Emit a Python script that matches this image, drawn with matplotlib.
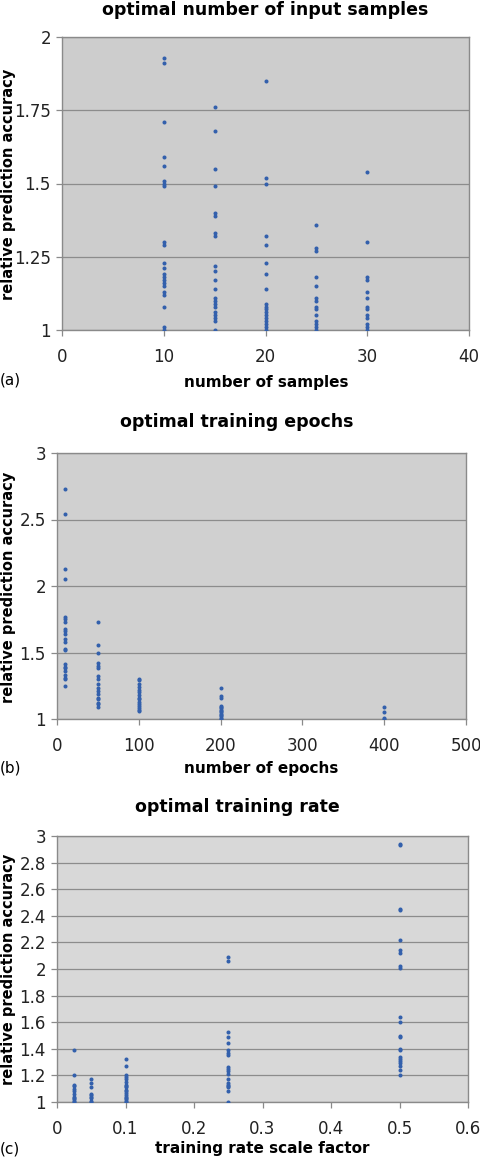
import matplotlib
matplotlib.use("Agg")
import matplotlib.pyplot as plt
from matplotlib.ticker import FuncFormatter

# (a) optimal number of input samples
samples_x = [10, 15, 20, 25, 30]
samples_y = [
    [1.93, 1.91, 1.71, 1.59, 1.56, 1.51, 1.50, 1.49, 1.30, 1.29, 1.23, 1.21,
     1.19, 1.18, 1.17, 1.16, 1.15, 1.13, 1.12, 1.08, 1.01, 1.00],
    [1.76, 1.68, 1.55, 1.49, 1.40, 1.39, 1.33, 1.32, 1.22, 1.20, 1.17, 1.14,
     1.11, 1.10, 1.09, 1.08, 1.06, 1.05, 1.04, 1.03, 1.00],
    [1.85, 1.52, 1.50, 1.32, 1.29, 1.23, 1.19, 1.14, 1.09, 1.08, 1.07, 1.06,
     1.05, 1.04, 1.03, 1.02, 1.01, 1.00],
    [1.36, 1.28, 1.27, 1.18, 1.15, 1.11, 1.10, 1.08, 1.07, 1.05, 1.03, 1.02,
     1.01, 1.00],
    [1.54, 1.30, 1.18, 1.17, 1.13, 1.11, 1.08, 1.07, 1.05, 1.04, 1.02, 1.01,
     1.00],
]

# (b) optimal training epochs
epochs_x = [10, 50, 100, 200, 400]
epochs_y = [
    [2.73, 2.54, 2.13, 2.05, 1.77, 1.75, 1.73, 1.68, 1.66, 1.64, 1.60, 1.58,
     1.53, 1.52, 1.41, 1.39, 1.38, 1.36, 1.33, 1.31, 1.30, 1.25],
    [1.73, 1.56, 1.50, 1.42, 1.40, 1.38, 1.32, 1.30, 1.26, 1.23, 1.21, 1.19,
     1.16, 1.15, 1.12, 1.11, 1.09],
    [1.30, 1.29, 1.26, 1.24, 1.22, 1.20, 1.18, 1.16, 1.15, 1.13, 1.11, 1.10,
     1.08, 1.07, 1.06],
    [1.23, 1.17, 1.16, 1.10, 1.09, 1.08, 1.07, 1.06, 1.05, 1.04, 1.03, 1.02,
     1.01, 1.00],
    [1.09, 1.05, 1.01, 1.00],
]

# (c) optimal training rate
rate_x = [0.025, 0.05, 0.1, 0.25, 0.5]
rate_y = [
    [1.39, 1.20, 1.13, 1.12, 1.10, 1.08, 1.06, 1.04, 1.03, 1.02, 1.01, 1.00],
    [1.17, 1.14, 1.11, 1.06, 1.05, 1.04, 1.03, 1.01, 1.00],
    [1.32, 1.27, 1.20, 1.19, 1.17, 1.15, 1.13, 1.12, 1.11, 1.09, 1.08, 1.07,
     1.05, 1.04, 1.03, 1.02, 1.01, 1.00],
    [2.09, 2.06, 1.53, 1.49, 1.44, 1.39, 1.37, 1.35, 1.26, 1.25, 1.23, 1.21,
     1.17, 1.14, 1.13, 1.12, 1.11, 1.08, 1.00],
    [2.94, 2.93, 2.45, 2.44, 2.22, 2.14, 2.12, 2.02, 2.01, 1.64, 1.60, 1.50,
     1.49, 1.40, 1.39, 1.34, 1.32, 1.31, 1.29, 1.27, 1.24, 1.20],
]

W, H = 480, 1158
fig = plt.figure(figsize=(W / 100, H / 100), dpi=100)
plt.rcParams['font.family'] = ['DejaVu Sans']

DOT = '#3360ac'
EDGE = '#8a8a8a'


def px_rect(l, t, r, b):
    return [l / W, 1 - b / H, (r - l) / W, (b - t) / H]


def ftext(x, y, s, **kw):
    fig.text(x / W, 1 - y / H, s, ha=kw.pop('ha', 'center'), va='center', **kw)


panels = [
    dict(rect=(62, 37, 469, 330), xs=samples_x, ys=samples_y,
         xlim=(0, 40), xt=[0, 10, 20, 30, 40],
         ylim=(1, 2), yt=[1, 1.25, 1.5, 1.75, 2], bg='#cdcdcd',
         title='optimal number of input samples', ty=10, tx=265,
         xlabel='number of samples', lx=266, ly=383, lab='(a)', laby=380, yly=184),
    dict(rect=(57, 453, 466, 719), xs=epochs_x, ys=epochs_y,
         xlim=(0, 500), xt=[0, 100, 200, 300, 400, 500],
         ylim=(1, 3), yt=[1, 1.5, 2, 2.5, 3], bg='#d0d0d0',
         title='optimal training epochs', ty=422, tx=237,
         xlabel='number of epochs', lx=261, ly=768, lab='(b)', laby=768, yly=587),
    dict(rect=(57, 836, 468, 1102), xs=rate_x, ys=rate_y,
         xlim=(0, 0.6), xt=[0, 0.1, 0.2, 0.3, 0.4, 0.5, 0.6],
         ylim=(1, 3), yt=[1, 1.2, 1.4, 1.6, 1.8, 2, 2.2, 2.4, 2.6, 2.8, 3], bg='#d8d8d8',
         title='optimal training rate', ty=807, tx=237,
         xlabel='training rate scale factor', lx=262, ly=1149, lab='(c)', laby=1149, yly=969),
]

fmt = FuncFormatter(lambda v, p: '%g' % v)

for p in panels:
    ax = fig.add_axes(px_rect(*p['rect']))
    ax.set_facecolor(p['bg'])
    for x, vals in zip(p['xs'], p['ys']):
        ax.plot([x] * len(vals), vals, linestyle='none', marker='o',
                markersize=2.9, color=DOT, markeredgewidth=0, zorder=3)
    ax.set_xlim(*p['xlim'])
    ax.set_ylim(*p['ylim'])
    ax.set_xticks(p['xt'])
    ax.set_yticks(p['yt'])
    ax.xaxis.set_major_formatter(fmt)
    ax.yaxis.set_major_formatter(fmt)
    ax.yaxis.grid(True, color='#8c8c8c', linewidth=0.9)
    ax.set_axisbelow(True)
    for s in ax.spines.values():
        s.set_color(EDGE)
        s.set_linewidth(1.0)
    ax.tick_params(direction='out', length=4, width=0.9, color=EDGE,
                   labelsize=12, labelcolor='#222222', pad=4)
    ax.tick_params(axis='x', pad=9)
    ftext(p['tx'], p['ty'], p['title'], fontsize=12.5, fontweight='bold')
    ftext(p['lx'], p['ly'], p['xlabel'], fontsize=11, fontweight='bold')
    ftext(9, p['yly'], 'relative prediction accuracy', fontsize=10.5,
          fontweight='bold', rotation=90)
    ftext(0, p['laby'], p['lab'], fontsize=11, ha='left')

fig.savefig('out.png', dpi=100)
